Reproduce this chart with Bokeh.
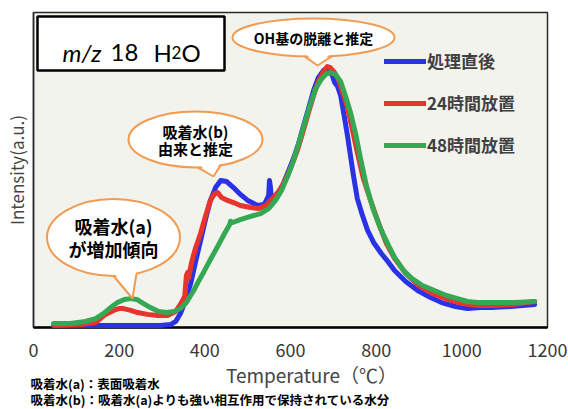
import numpy as np
from bokeh.plotting import figure
from bokeh.models import Range1d, FixedTicker, Legend, LegendItem, Label, LinearAxis
from bokeh.embed import file_html
from bokeh.resources import INLINE

# ---- data: m/z 18 (H2O) desorption profiles ----
temp_fresh = [47, 156, 296, 320, 332, 343, 355, 367, 378, 390, 402, 413, 425, 437, 451,
              467, 483, 500, 523, 539, 549, 551, 553, 556, 565, 577, 593, 607, 619, 630,
              642, 654, 665, 677, 689, 696, 703, 710, 717, 726, 733, 740, 747, 756, 768,
              780, 794, 812, 829, 843, 869, 897, 927, 953, 985, 1013, 1044, 1069, 1114, 1170]
int_fresh = [0.008, 0.008, 0.008, 0.011, 0.023, 0.053, 0.103, 0.168, 0.248, 0.331, 0.415,
             0.484, 0.533, 0.560, 0.556, 0.533, 0.507, 0.484, 0.465, 0.469, 0.503, 0.560,
             0.537, 0.484, 0.495, 0.522, 0.587, 0.644, 0.701, 0.766, 0.834, 0.903, 0.952,
             0.979, 0.990, 0.968, 0.933, 0.918, 0.884, 0.800, 0.731, 0.655, 0.579, 0.491,
             0.427, 0.370, 0.324, 0.282, 0.248, 0.217, 0.175, 0.141, 0.114, 0.095, 0.080,
             0.072, 0.076, 0.076, 0.080, 0.088]

temp_24h = [47, 110, 145, 168, 187, 199, 210, 227, 243, 266, 290, 313, 332, 343, 353,
            357, 360, 362, 369, 378, 390, 402, 413, 423, 430, 439, 453, 467, 483, 507,
            525, 542, 558, 572, 584, 600, 616, 630, 642, 654, 665, 677, 686, 693, 703,
            712, 722, 733, 745, 756, 770, 787, 806, 824, 843, 869, 899, 932, 967, 1002,
            1037, 1074, 1118, 1170]
int_24h = [0.008, 0.011, 0.019, 0.050, 0.065, 0.072, 0.072, 0.065, 0.057, 0.050, 0.046,
           0.046, 0.061, 0.088, 0.118, 0.198, 0.210, 0.187, 0.248, 0.301, 0.358, 0.427,
           0.484, 0.510, 0.514, 0.495, 0.484, 0.476, 0.465, 0.457, 0.453, 0.465, 0.491,
           0.518, 0.549, 0.606, 0.674, 0.750, 0.819, 0.884, 0.937, 0.975, 0.994, 0.990,
           0.971, 0.945, 0.895, 0.838, 0.750, 0.667, 0.568, 0.484, 0.396, 0.320, 0.263,
           0.206, 0.160, 0.130, 0.107, 0.091, 0.084, 0.084, 0.088, 0.099]

temp_48h = [47, 86, 121, 145, 163, 180, 196, 212, 227, 241, 257, 273, 292, 311, 329,
            343, 357, 374, 385, 397, 413, 430, 446, 458, 460, 465, 483, 507, 530, 549,
            565, 579, 593, 607, 621, 635, 647, 658, 670, 682, 693, 705, 717, 728, 740,
            752, 763, 777, 794, 812, 829, 843, 864, 883, 908, 936, 964, 990, 1013, 1037,
            1067, 1093, 1125, 1170]
int_48h = [0.015, 0.015, 0.023, 0.034, 0.053, 0.076, 0.095, 0.107, 0.110, 0.107, 0.091,
           0.076, 0.061, 0.057, 0.061, 0.072, 0.095, 0.141, 0.175, 0.210, 0.259, 0.309,
           0.358, 0.392, 0.405, 0.400, 0.411, 0.423, 0.434, 0.453, 0.484, 0.522, 0.575,
           0.636, 0.712, 0.789, 0.853, 0.907, 0.941, 0.964, 0.971, 0.964, 0.937, 0.884,
           0.819, 0.739, 0.648, 0.541, 0.446, 0.370, 0.312, 0.267, 0.217, 0.187, 0.160,
           0.141, 0.122, 0.110, 0.099, 0.095, 0.095, 0.095, 0.095, 0.099]

series_names = ["処理直後", "24時間放置", "48時間放置"]
x_ticks = [0, 200, 400, 600, 800, 1000, 1200]

# ---- layout: the plotting frame spans the whole canvas; the chart box sits inside it ----
W, H = 568, 409
BL, BR, BT, BB = 33, 547, 12, 327          # chart box edges in canvas pixels
XMIN, XMAX, YMIN, YMAX = 0, 1200, 0, 1.2
KX = (XMAX - XMIN) / (BR - BL)
KY = (YMAX - YMIN) / (BB - BT)


def sx(px):
    return XMIN + (px - BL) * KX


def sy(py):
    return YMIN + (BB - py) * KY


JP = "Noto Sans CJK JP"
ORANGE = "#f29b50"
COLORS = ["#2a32e6", "#e8342c", "#34a852"]

p = figure(width=W, height=H, output_backend="svg", toolbar_location=None,
           x_range=Range1d(sx(0), sx(W)), y_range=Range1d(sy(H), sy(0)),
           min_border=0)
p.title.visible = False
p.background_fill_color = "white"
p.border_fill_color = "white"
p.outline_line_color = None
p.xgrid.visible = False
p.ygrid.visible = False

# chart box background and border, heavier base line
p.quad(left=XMIN, right=XMAX, bottom=YMIN, top=YMAX,
       fill_color="#f2f3ed", line_color="#2b2b2b", line_width=1.5)
p.segment(x0=XMIN, y0=YMIN, x1=XMAX, y1=YMIN, line_color="black", line_width=2.5)

xa = p.xaxis[0]
xa.fixed_location = YMIN
xa.bounds = (XMIN, XMAX)
xa.ticker = FixedTicker(ticks=x_ticks)
xa.minor_tick_line_color = None
xa.major_tick_line_color = None
xa.major_tick_out = 0
xa.major_tick_in = 0
xa.axis_line_color = None
xa.major_label_standoff = 15
xa.major_label_text_font = JP
xa.major_label_text_font_size = "18px"
xa.major_label_text_color = "#383838"

# axis title on its own tick-less axis, centred a little right of the box centre
title_centre = sx(311)
xt = LinearAxis(fixed_location=YMIN, ticker=FixedTicker(ticks=[]),
                bounds=(title_centre - 500, title_centre + 500),
                axis_line_color=None, major_tick_line_color=None, minor_tick_line_color=None,
                major_tick_out=0, major_tick_in=0, major_label_standoff=0,
                axis_label="Temperature（℃）", axis_label_standoff=33,
                axis_label_text_font=JP, axis_label_text_font_size="19px",
                axis_label_text_font_style="normal", axis_label_text_color="#444444")
p.add_layout(xt, "below")

ya = p.yaxis[0]
ya.fixed_location = XMIN
ya.bounds = (YMIN, YMAX)
ya.ticker = FixedTicker(ticks=[])
ya.minor_tick_line_color = None
ya.major_tick_line_color = None
ya.major_tick_out = 0
ya.major_label_standoff = 0
ya.axis_line_color = "#2b2b2b"
ya.axis_line_width = 1.5
ya.axis_label = "Intensity(a.u.)"
ya.axis_label_text_font = JP
ya.axis_label_text_font_size = "17px"
ya.axis_label_text_font_style = "normal"
ya.axis_label_text_color = "#444444"
ya.axis_label_standoff = 5

# ---- curves ----
renderers = []
for t, v, c in [(temp_fresh, int_fresh, COLORS[0]),
                (temp_24h, int_24h, COLORS[1]),
                (temp_48h, int_48h, COLORS[2])]:
    r = p.line(t, v, line_color=c, line_width=5, line_join="round", line_cap="round")
    renderers.append(r)

# legend position is measured from the frame's bottom-left (canvas bottom-left here)
legend = Legend(items=[LegendItem(label=n, renderers=[r]) for n, r in zip(series_names, renderers)],
                location=(384, H - 157), padding=0, margin=0, spacing=17,
                glyph_width=42, glyph_height=20, label_height=20, label_standoff=1,
                border_line_color=None, background_fill_alpha=0,
                label_text_font=JP, label_text_font_size="17px", label_text_font_style="bold",
                label_text_color="#404040", label_text_baseline="middle")
p.add_layout(legend)

# ---- species box ----
p.quad(left=sx(37), right=sx(224), top=sy(16), bottom=sy(70),
       fill_color="white", line_color="black", line_width=2.5)
for txt, px, size, style in [("m/z", 62, "24px", "italic"), ("18", 110, "24px", "normal"),
                             ("H", 153, "24px", "normal"), ("2", 171, "17px", "normal"),
                             ("O", 181, "24px", "normal")]:
    p.add_layout(Label(x=sx(px), y=sy(52), text=txt, text_font="Lato", text_font_size=size,
                       text_font_style=style, text_color="black", text_align="left",
                       text_baseline="alphabetic"))


# ---- speech-bubble callouts ----
def callout(cx, cy, w, h, xl, xr, tip, lines, size, pitch):
    a, b = w / 2, h / 2

    def edge(x):
        return cy + b * np.sqrt(max(0.0, 1 - ((x - cx) / a) ** 2))

    p.ellipse(x=sx(cx), y=sy(cy), width=w * KX, height=h * KY,
              fill_color="white", line_color=ORANGE, line_width=2)
    p.patch([sx(xl), sx(tip[0]), sx(xr)], [sy(edge(xl) - 4), sy(tip[1]), sy(edge(xr) - 4)],
            fill_color="white", line_color=None)
    p.line([sx(xl), sx(tip[0]), sx(xr)], [sy(edge(xl)), sy(tip[1]), sy(edge(xr))],
           line_color=ORANGE, line_width=2)
    n = len(lines)
    for i, s in enumerate(lines):
        yy = cy + (i - (n - 1) / 2) * pitch
        p.add_layout(Label(x=sx(cx), y=sy(yy), text=s, text_font=JP, text_font_size=size,
                           text_font_style="bold", text_color="black",
                           text_align="center", text_baseline="middle"))


callout(313, 37, 162, 38, 304, 332, (317, 65), ["OH基の脱離と推定"], "14px", 0)
callout(195, 139, 134, 56, 197, 220, (213, 176), ["吸着水(b)", "由来と推定"], "15px", 17)
callout(113, 237, 133, 77, 113, 136, (132, 298), ["吸着水(a)", "が増加傾向"], "18px", 23)

# ---- footnotes ----
for txt, py in [("吸着水(a)：表面吸着水", 383),
                ("吸着水(b)：吸着水(a)よりも強い相互作用で保持されている水分", 399)]:
    p.add_layout(Label(x=sx(30), y=sy(py), text=txt, text_font=JP, text_font_size="12.5px",
                       text_font_style="bold", text_color="black",
                       text_align="left", text_baseline="middle"))

open("out.html", "w").write(file_html(p, INLINE))
